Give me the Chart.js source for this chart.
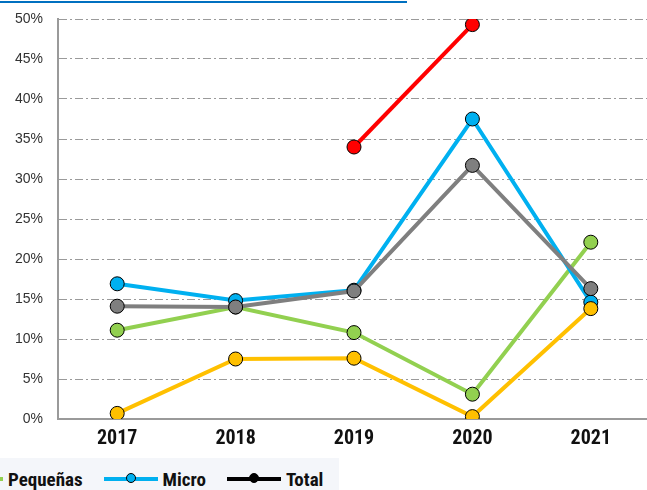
<!DOCTYPE html>
<html>
<head>
<meta charset="utf-8">
<script src="https://cdn.jsdelivr.net/npm/chart.js@4"></script>
<style>
  html, body { margin:0; padding:0; background:#fff; overflow:hidden; width:647px; height:490px; }
  #topline { position:absolute; left:0; top:1px; width:407px; height:2px; background:#0070c0; }
  #chart { position:absolute; left:0; top:0; }
  #legend {
    position:absolute; left:0; top:458px; width:339px; height:32px;
    background:#f4f6fa; overflow:hidden;
    font-family:"Roboto Condensed","Liberation Sans Narrow","Liberation Sans",sans-serif;
    font-weight:bold; font-size:19px; color:#111;
  }
  #legend .row { display:flex; align-items:center; height:22px; margin-top:10px; margin-left:-51px; }
  #legend .item { display:flex; align-items:center; margin-right:21px; }
  #legend .line { position:relative; width:54px; height:4px; margin-right:5px; }
  #legend .dot { position:absolute; left:22px; top:-4px; width:10px; height:10px; border-radius:50%; box-sizing:border-box; border:1px solid #000; }
</style>
</head>
<body>
<div id="topline"></div>
<canvas id="chart" width="652" height="458"></canvas>
<div id="legend"><div class="row" id="legendRow"></div></div>
<script>
/* ============================
   DATA
============================ */

const years = ["2017", "2018", "2019", "2020", "2021"];
const yTicks = [0, 5, 10, 15, 20, 25, 30, 35, 40, 45, 50];

const total2 = [null, null, 34.0, 49.3, null];   // red
const medianas = [0.7, 7.5, 7.6, 0.3, 13.8];     // yellow
const grandes = [14.1, 14.0, 16.0, 31.7, 16.3];  // gray
const micro = [16.9, 14.8, 16.1, 37.5, 14.6];    // blue
const pequenas = [11.1, 14.0, 10.8, 3.1, 22.1];  // green

const legendItems = [
  { label: "Pequeñas", color: "#92d050" },
  { label: "Micro", color: "#00b0f0" },
  { label: "Total", color: "#000000" }
];

/* ============================
   CHART
============================ */

function series(data, color){
  return {
    data: data,
    borderColor: color,
    backgroundColor: color,
    borderWidth: 4,
    pointRadius: 7,
    pointBorderColor: "#000",
    pointBorderWidth: 1,
    pointBackgroundColor: color,
    tension: 0,
    spanGaps: false
  };
}

const canvas = document.getElementById("chart");

new Chart(canvas, {
  type: "line",
  data: {
    labels: years,
    datasets: [
      series(total2, "#ff0000"),
      series(medianas, "#ffc000"),
      series(grandes, "#7f7f7f"),
      series(micro, "#00b0f0"),
      series(pequenas, "#92d050")
    ]
  },
  options: {
    responsive: false,
    animation: false,
    layout: { autoPadding: false, padding: { top: 19, right: 2, left: 0, bottom: 0 } },
    plugins: {
      legend: { display: false },
      tooltip: { enabled: false }
    },
    scales: {
      x: {
        offset: true,
        grid: { display: false, drawTicks: false },
        border: { display: true, color: "#9a9a9a", width: 2 },
        ticks: {
          color: "#111",
          padding: 8,
          font: { family: "'Roboto Condensed', 'Liberation Sans Narrow', 'Liberation Sans', sans-serif", size: 20, weight: "bold" }
        },
        afterFit(scale){
          scale.height = 39;
          scale.paddingLeft = 0;
          scale.paddingRight = 0;
        }
      },
      y: {
        min: 0,
        max: 50,
        afterBuildTicks(scale){ scale.ticks = yTicks.map(v => ({ value: v })); },
        grid: { color: "#9a9a9a", lineWidth: 1, drawTicks: false },
        border: { display: true, color: "#9a9a9a", width: 2, dash: [8, 3, 2, 3] },
        ticks: {
          color: "#333",
          padding: 15,
          font: { family: "'Liberation Sans', Arial, sans-serif", size: 14 },
          callback: v => v + "%"
        },
        afterFit(scale){
          scale.width = 58;
          scale.paddingTop = 0;
          scale.paddingBottom = 0;
        }
      }
    }
  }
});

/* ============================
   LEGEND
============================ */

const row = document.getElementById("legendRow");
legendItems.forEach(item => {
  const el = document.createElement("div");
  el.className = "item";
  el.innerHTML = `
    <span class="line" style="background:${item.color}">
      <span class="dot" style="background:${item.color}"></span>
    </span>
    <span>${item.label}</span>`;
  row.appendChild(el);
});
</script>
</body>
</html>
